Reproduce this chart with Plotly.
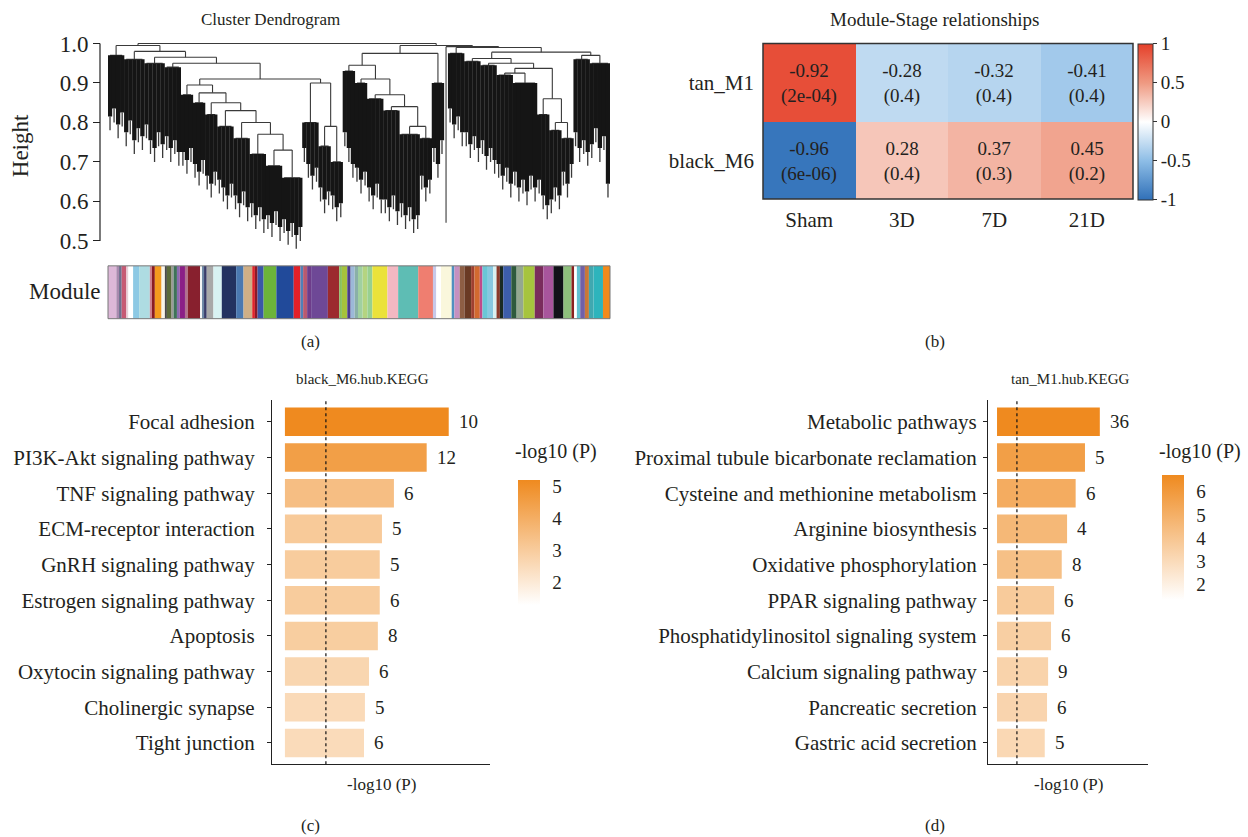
import math
import plotly.graph_objects as go

W, H = 1248, 837
FONT = "Liberation Serif"
INK = "#231F20"

# vertical calibration of the photographed page (observed offset/scale)
Y_OFF, Y_SCALE = 8.4, 0.991


def fx(p):
    return p / W


def yc(p):
    return (p - Y_OFF) / Y_SCALE


def fy(p):
    return 1 - yc(p) / H


def dom_x(a, b):
    return [a / W, b / W]


def dom_y(top, bottom):
    return [1 - yc(bottom) / H, 1 - yc(top) / H]


# ================= (a) Cluster dendrogram data =================
# B(merge height, leaf tip heights...) = dense block of leaves; N(height, children...) = merge
def B(h, *tips):
    return ("B", h, list(tips))


def N(h, *kids):
    return ("N", h, list(kids))


blk_L1 = B(0.970, 0.78, 0.80, 0.76, 0.79)
blk_L2 = B(0.960, 0.74, 0.77, 0.72, 0.75, 0.73)
blk_L3 = B(0.950, 0.76, 0.72, 0.70, 0.74, 0.71)
blk_L4 = B(0.940, 0.73, 0.70, 0.72, 0.69)
blk_F1 = B(0.870, 0.69, 0.67, 0.70)
blk_F2 = B(0.850, 0.66, 0.64, 0.67)
blk_F3 = B(0.820, 0.63, 0.61, 0.64)
blk_F4 = B(0.790, 0.62, 0.60, 0.58, 0.61)
blk_F5 = B(0.760, 0.58, 0.56, 0.59, 0.55)
blk_F6 = B(0.720, 0.56, 0.53, 0.55, 0.52)
blk_F7 = B(0.690, 0.53, 0.51, 0.54, 0.50)
blk_F8 = B(0.660, 0.52, 0.49, 0.51, 0.48, 0.50)
blk_R1 = B(0.800, 0.70, 0.66, 0.63, 0.65)
blk_R2 = B(0.740, 0.60, 0.57, 0.59)
blk_R3 = B(0.700, 0.58, 0.55, 0.56)

blk_M1 = B(0.930, 0.74, 0.70, 0.66)
blk_M2 = B(0.900, 0.65, 0.62, 0.64)
blk_M3 = B(0.860, 0.60, 0.58, 0.61, 0.57)
blk_M4 = B(0.830, 0.57, 0.55, 0.58, 0.54)
blk_M5 = B(0.770, 0.56, 0.53, 0.55, 0.52, 0.53)
blk_MB1 = B(0.760, 0.63, 0.60, 0.62)
blk_MB2 = B(0.900, 0.70, 0.66, 0.72)

blk_single = B(0.546, 0.546)

blk_RD1 = B(0.975, 0.80, 0.76, 0.78, 0.74)
blk_RD2 = B(0.955, 0.74, 0.71, 0.73, 0.70)
blk_RD3 = B(0.945, 0.72, 0.68, 0.70, 0.67)
blk_RD4 = B(0.920, 0.66, 0.63, 0.65, 0.61)
blk_RD5 = B(0.900, 0.64, 0.60, 0.62, 0.59, 0.63, 0.60)
blk_RF1 = B(0.820, 0.62, 0.58, 0.555)
blk_RF2 = B(0.780, 0.57, 0.60, 0.58)
blk_RF3 = B(0.760, 0.64, 0.61, 0.66)
blk_RR1 = B(0.960, 0.74, 0.70, 0.72, 0.69)
blk_RR2 = B(0.950, 0.71, 0.75, 0.70, 0.73, 0.61)

fan_left = N(0.895, blk_F1, N(0.875, blk_F2, N(0.850, blk_F3, N(0.830, blk_F4,
             N(0.800, blk_F5, N(0.770, blk_F6, N(0.730, blk_F7, blk_F8)))))))
sub_left = N(0.900, blk_R1, N(0.790, blk_R2, blk_R3))
left_cluster = N(0.995, blk_L1, N(0.980, blk_L2, N(0.965, blk_L3,
                 N(0.950, blk_L4, N(0.910, fan_left, sub_left)))))

mid_fan = N(0.945, blk_M1, N(0.910, blk_M2, N(0.870, blk_M3, N(0.840, blk_M4,
            N(0.790, blk_M5, blk_MB1)))))
mid_cluster = N(0.975, mid_fan, blk_MB2)

fan_right = N(0.860, blk_RF1, N(0.800, blk_RF2, blk_RF3))
right_cluster = N(0.990, blk_RD1, N(0.978,
                  N(0.962, blk_RD2, N(0.950, blk_RD3,
                    N(0.937, N(0.925, blk_RD4, blk_RD5), fan_right))),
                  N(0.970, blk_RR1, blk_RR2)))

dendro_root = N(1.000, left_cluster, N(0.995, mid_cluster, N(0.992, blk_single, right_cluster)))

height_ticks = [0.5, 0.6, 0.7, 0.8, 0.9, 1.0]

module_colors = [
    "#DDB8D8", "#A98AAE", "#6F6F8E", "#C65A74", "#E8D0D8", "#FFFFFF", "#8DC9E4", "#AEDCE2",
    "#D08090", "#8A1C22", "#F39A1E", "#F8F4E8", "#4A4A4A", "#5A6A3A", "#9A9A9A", "#3E7358",
    "#8A6CB0", "#8B1F86", "#B07090", "#88202E", "#F4F4F4", "#6C86A4", "#3A3C6A", "#A8A8A8",
    "#D8F2F2", "#233260", "#4A78B0", "#CFAF86", "#E0242A", "#8A1A28", "#3A58A8", "#6CB43A",
    "#214A9A", "#E22028", "#5080B8", "#B85A70", "#6E3C8A", "#6E4896", "#9C2A2E", "#88C060",
    "#A6C23C", "#4A3C8A", "#9CB8D8", "#8AB0A8", "#A0D0A0", "#B4D480", "#98D090", "#EBE23A",
    "#F3B8C2", "#5EBDB4", "#EF7E70", "#C8C8E8", "#FFFFFF", "#FAF7DC", "#5090C0", "#C590C0",
    "#8E5E44", "#6A3A24", "#A04030", "#D26A30", "#C04A8A", "#6AC6D6", "#88C8E0", "#D8F0F0",
    "#8A3A2A", "#1A2A22", "#3D5DAA", "#2E5A3C", "#94A890", "#A6C43E", "#7A2C5C", "#A8559C",
    "#111218", "#8EC07C", "#8A2020", "#FFFFFF", "#60C0D0", "#7060A8", "#C87838", "#40A8B0",
    "#2EB4BC", "#F28A1C",
]
module_widths = [
    25, 8, 8, 14, 6, 14, 18, 32,
    6, 9, 20, 10, 6, 14, 6, 10,
    8, 16, 8, 37, 6, 6, 8, 20,
    25, 43, 22, 26, 8, 8, 18, 38,
    52, 20, 8, 12, 12, 50, 34, 8,
    16, 10, 12, 10, 14, 14, 15, 45,
    32, 60, 44, 10, 14, 32, 8, 16,
    14, 20, 10, 16, 8, 16, 16, 10,
    10, 10, 24, 16, 20, 34, 26, 30,
    30, 24, 8, 8, 10, 14, 12, 14,
    28, 21,
]

# ================= (b) Module-Stage relationships =================
stages = ["Sham", "3D", "7D", "21D"]
modules = ["tan_M1", "black_M6"]
corr_values = [[-0.92, -0.28, -0.32, -0.41],
               [-0.96, 0.28, 0.37, 0.45]]
p_labels = [["2e-04", "0.4", "0.4", "0.4"],
            ["6e-06", "0.4", "0.3", "0.2"]]
# fill colour as printed in the reference (tan_M1/Sham cell is drawn red)
cell_fill = [[0.92, -0.28, -0.32, -0.41],
             [-0.96, 0.28, 0.37, 0.45]]

# ================= (c) black_M6.hub.KEGG =================
c_terms = ["Focal adhesion", "PI3K-Akt signaling pathway", "TNF signaling pathway",
           "ECM-receptor interaction", "GnRH signaling pathway", "Estrogen signaling pathway",
           "Apoptosis", "Oxytocin signaling pathway", "Cholinergic synapse", "Tight junction"]
c_logp = [5.20, 4.50, 3.46, 3.08, 3.01, 3.01, 2.95, 2.67, 2.54, 2.51]
c_count = [10, 12, 6, 5, 5, 6, 8, 6, 5, 6]

# ================= (d) tan_M1.hub.KEGG =================
d_terms = ["Metabolic pathways", "Proximal tubule bicarbonate reclamation",
           "Cysteine and methionine metabolism", "Arginine biosynthesis",
           "Oxidative phosphorylation", "PPAR signaling pathway",
           "Phosphatidylinositol signaling system", "Calcium signaling pathway",
           "Pancreatic secretion", "Gastric acid secretion"]
d_logp = [6.72, 5.75, 5.14, 4.58, 4.23, 3.73, 3.53, 3.34, 3.27, 3.12]
d_count = [36, 5, 6, 4, 8, 6, 6, 9, 6, 5]

p_threshold = 0.05
color_floor = 1.3

# ---------------------------------------------------------------
fig = go.Figure()

FRINGE = 0.035  # thin lower end of each leaf (visual texture only)
leaf_x, leaf_y, tip_x, tip_y, link_x, link_y = [], [], [], [], [], []
counter = [0]


def place(node):
    kind, h, items = node
    if kind == "B":
        xs = []
        for t in items:
            counter[0] += 1
            x = counter[0]
            xs.append(x)
            if t < h:
                mid = min(h, t + FRINGE)
                leaf_x.extend([x, x, None])
                leaf_y.extend([mid, h, None])
                tip_x.extend([x, x, None])
                tip_y.extend([t, mid, None])
        if len(xs) > 1:
            link_x.extend([xs[0], xs[-1], None])
            link_y.extend([h, h, None])
        return (xs[0] + xs[-1]) / 2, h
    pos = [place(k) for k in items]
    for x, hk in pos:
        link_x.extend([x, x, None])
        link_y.extend([hk, h, None])
    link_x.extend([pos[0][0], pos[-1][0], None])
    link_y.extend([h, h, None])
    return (pos[0][0] + pos[-1][0]) / 2, h


place(dendro_root)
n_leaves = counter[0]

fig.add_trace(go.Scatter(x=link_x, y=link_y, mode="lines",
                         line=dict(color="#3a3a3a", width=1.1),
                         xaxis="x", yaxis="y", hoverinfo="skip", showlegend=False))
fig.add_trace(go.Scatter(x=tip_x, y=tip_y, mode="lines",
                         line=dict(color="#3a3a3a", width=1.3),
                         xaxis="x", yaxis="y", hoverinfo="skip", showlegend=False))
fig.add_trace(go.Scatter(x=leaf_x, y=leaf_y, mode="lines",
                         line=dict(color="#151515", width=4.3),
                         xaxis="x", yaxis="y", hoverinfo="skip", showlegend=False))

# module colour strip
centers = []
acc = 0
for w in module_widths:
    centers.append(acc + w / 2)
    acc += w
total_w = acc
fig.add_trace(go.Bar(x=centers, y=[1] * len(centers), width=module_widths,
                     marker=dict(color=module_colors, line=dict(width=0)),
                     xaxis="x2", yaxis="y2", hoverinfo="skip", showlegend=False))

# heatmap
cell_text = [[f"{corr_values[i][j]:.2f}<br>({p_labels[i][j]})" for j in range(len(stages))]
             for i in range(len(modules))]
rb_scale = [[0.0, "#3070B8"], [0.25, "#8DBDE6"], [0.5, "#FFFFFF"],
            [0.75, "#EF9A82"], [1.0, "#E5402A"]]
fig.add_trace(go.Heatmap(
    z=cell_fill, x=stages, y=modules, text=cell_text, texttemplate="%{text}",
    textfont=dict(family=FONT, size=19, color=INK),
    colorscale=rb_scale, zmin=-1, zmax=1, xaxis="x3", yaxis="y3", hoverinfo="skip",
    colorbar=dict(x=fx(1138), xanchor="left", xpad=0, y=fy(42), yanchor="top", ypad=0,
                  len=(yc(198) - yc(42)) / H, lenmode="fraction", thickness=15,
                  outlinecolor="#333333", outlinewidth=1,
                  ticks="outside", ticklen=4, tickcolor="#333333",
                  tickvals=[-1, -0.5, 0, 0.5, 1], ticktext=["-1", "-0.5", "0", "0.5", "1"],
                  tickfont=dict(family=FONT, size=19, color=INK)),
))

orange_scale = [[0.0, "#FFFFFF"], [1.0, "#EF8A1F"]]
thr = -math.log10(p_threshold)

fig.add_trace(go.Bar(
    x=c_logp, y=c_terms, orientation="h", width=0.8,
    marker=dict(color=c_logp, colorscale=orange_scale, cmin=color_floor, cmax=max(c_logp),
                line=dict(width=0), showscale=True,
                colorbar=dict(x=fx(518), xanchor="left", xpad=0, y=fy(480), yanchor="top", ypad=0,
                              len=(yc(605) - yc(480)) / H, lenmode="fraction", thickness=22,
                              outlinewidth=0, ticks="outside", ticklen=9, tickcolor="white",
                              tickvals=[2, 3, 4, 5],
                              tickfont=dict(family=FONT, size=19, color=INK))),
    xaxis="x4", yaxis="y4", hoverinfo="skip", showlegend=False))

fig.add_trace(go.Bar(
    x=d_logp, y=d_terms, orientation="h", width=0.8,
    marker=dict(color=d_logp, colorscale=orange_scale, cmin=color_floor, cmax=max(d_logp),
                line=dict(width=0), showscale=True,
                colorbar=dict(x=fx(1162), xanchor="left", xpad=0, y=fy(475), yanchor="top", ypad=0,
                              len=(yc(600) - yc(475)) / H, lenmode="fraction", thickness=22,
                              outlinewidth=0, ticks="outside", ticklen=9, tickcolor="white",
                              tickvals=[2, 3, 4, 5, 6],
                              tickfont=dict(family=FONT, size=19, color=INK))),
    xaxis="x5", yaxis="y5", hoverinfo="skip", showlegend=False))

annotations = []
for v, t, n in zip(c_logp, c_terms, c_count):
    annotations.append(dict(x=v, y=t, xref="x4", yref="y4", text=str(n), showarrow=False,
                            xanchor="left", xshift=8, font=dict(family=FONT, size=19, color=INK)))
for v, t, n in zip(d_logp, d_terms, d_count):
    annotations.append(dict(x=v, y=t, xref="x5", yref="y5", text=str(n), showarrow=False,
                            xanchor="left", xshift=8, font=dict(family=FONT, size=19, color=INK)))


def label(text, x, y, size=17, angle=0, xanchor="center"):
    annotations.append(dict(x=fx(x), y=fy(y), xref="paper", yref="paper", text=text,
                            showarrow=False, xanchor=xanchor, yanchor="middle", textangle=angle,
                            font=dict(family=FONT, size=size, color=INK)))


label("Cluster Dendrogram", 270, 18, 17)
label("Height", 20, 145, 23, -90)
label("Module", 65, 291, 23)
label("(a)", 310, 341, 17)
label("Module-Stage relationships", 935, 18, 19)
label("(b)", 935, 341, 17)
label("black_M6.hub.KEGG", 362, 378, 15)
label("tan_M1.hub.KEGG", 1070, 378, 15)
label("-log10 (P)", 381, 785, 17)
label("-log10 (P)", 1068, 785, 17)
label("-log10 (P)", 556, 451, 20)
label("-log10 (P)", 1200, 451, 20)
label("(c)", 310, 826, 17)
label("(d)", 935, 826, 17)

shapes = [
    dict(type="line", xref="paper", yref="y", x0=fx(100), x1=fx(100), y0=0.5, y1=1.0,
         line=dict(color="#222", width=1.2)),
    dict(type="rect", xref="x2 domain", yref="y2 domain", x0=0, x1=1, y0=0, y1=1,
         line=dict(color="#777", width=1)),
    dict(type="rect", xref="x3 domain", yref="y3 domain", x0=0, x1=1, y0=0, y1=1,
         line=dict(color="#333", width=1.5)),
    dict(type="line", xref="x4", yref="y4 domain", x0=thr, x1=thr, y0=0, y1=1,
         line=dict(color="#111", width=1.2, dash="dot")),
    dict(type="line", xref="x5", yref="y5 domain", x0=thr, x1=thr, y0=0, y1=1,
         line=dict(color="#111", width=1.2, dash="dot")),
]

axis_font = dict(family=FONT, size=21, color=INK)
fig.update_layout(
    width=W, height=H, margin=dict(l=0, r=0, t=0, b=0),
    paper_bgcolor="white", plot_bgcolor="white", showlegend=False,
    annotations=annotations, shapes=shapes,
    xaxis=dict(domain=dom_x(108, 610), range=[0.5, n_leaves + 0.5], visible=False),
    yaxis=dict(domain=dom_y(40, 255.8), range=[0.46, 1.005], anchor="free", position=fx(100),
               tickvals=height_ticks, tickformat=".1f", ticks="outside", ticklen=7,
               tickcolor="#222", showgrid=False, zeroline=False, showline=False,
               tickfont=dict(family=FONT, size=23, color=INK)),
    xaxis2=dict(domain=dom_x(108, 610), range=[0, total_w], visible=False, anchor="y2"),
    yaxis2=dict(domain=dom_y(265, 318), range=[0, 1], visible=False, anchor="x2"),
    xaxis3=dict(domain=dom_x(763, 1133), anchor="y3", showgrid=False, zeroline=False,
                ticks="", tickfont=axis_font, ticklabelstandoff=6),
    yaxis3=dict(domain=dom_y(42, 198), anchor="x3", autorange="reversed", showgrid=False,
                zeroline=False, ticks="", tickfont=axis_font, ticklabelstandoff=8),
    xaxis4=dict(domain=dom_x(272, 490), range=[-0.41, 6.51], anchor="y4", showline=True,
                linecolor="#222", linewidth=1.2, showticklabels=False, ticks="",
                showgrid=False, zeroline=False),
    yaxis4=dict(domain=dom_y(400, 765), range=[9.6, -0.6], anchor="x4", showline=True,
                linecolor="#222", linewidth=1.2, ticks="outside", ticklen=4, tickcolor="#222",
                showgrid=False, zeroline=False, tickfont=axis_font, ticklabelstandoff=8),
    xaxis5=dict(domain=dom_x(988, 1148), range=[-0.59, 9.87], anchor="y5", showline=True,
                linecolor="#222", linewidth=1.2, showticklabels=False, ticks="",
                showgrid=False, zeroline=False),
    yaxis5=dict(domain=dom_y(400, 765), range=[9.6, -0.6], anchor="x5", showline=True,
                linecolor="#222", linewidth=1.2, ticks="outside", ticklen=4, tickcolor="#222",
                showgrid=False, zeroline=False, tickfont=axis_font, ticklabelstandoff=2),
)

fig.write_html(
    "out.html",
    config={"displayModeBar": False},
    post_script=(
        "document.documentElement.style.margin='0';"
        "document.body.style.margin='0';document.body.style.padding='0';"
        "var gd=document.getElementById('{plot_id}');"
        "gd.style.position='absolute';gd.style.top='0px';gd.style.left='0px';"
    ),
)
